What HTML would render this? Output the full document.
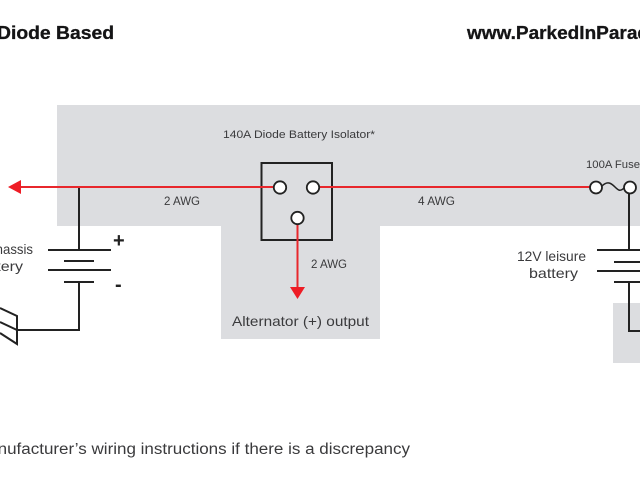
<!DOCTYPE html>
<html>
<head>
<meta charset="utf-8">
<style>
html,body{margin:0;padding:0;background:#fff;width:640px;height:480px;overflow:hidden}
svg{display:block}
text{font-family:"Liberation Sans",sans-serif;fill:#3a3a3c}
.b{font-weight:bold;fill:#151516;stroke:#151516;stroke-width:.3}
</style>
</head>
<body>
<svg width="640" height="480" viewBox="0 0 640 480" xmlns="http://www.w3.org/2000/svg">
<rect width="640" height="480" fill="#fff"/>
<path d="M57 105H640V226H380V339H221V226H57Z" fill="#dcdde0"/>
<rect x="613" y="303" width="27" height="60" fill="#dcdde0"/>

<text class="b" x="-3" y="39" font-size="18" textLength="117" lengthAdjust="spacingAndGlyphs">Diode Based</text>
<text class="b" x="467" y="39" font-size="18" textLength="182" lengthAdjust="spacingAndGlyphs">www.ParkedInParad</text>

<text x="223" y="138" font-size="11" textLength="152" lengthAdjust="spacingAndGlyphs">140A Diode Battery Isolator*</text>
<text x="164" y="205" font-size="11.500" textLength="36" lengthAdjust="spacingAndGlyphs">2 AWG</text>
<text x="418" y="205" font-size="11.500" textLength="37" lengthAdjust="spacingAndGlyphs">4 AWG</text>
<text x="311" y="268" font-size="11.500" textLength="36" lengthAdjust="spacingAndGlyphs">2 AWG</text>
<text x="232" y="326" font-size="14" textLength="137" lengthAdjust="spacingAndGlyphs">Alternator (+) output</text>
<text x="586" y="168" font-size="11" textLength="54" lengthAdjust="spacingAndGlyphs">100A Fuse</text>
<text x="517" y="261" font-size="14" textLength="69" lengthAdjust="spacingAndGlyphs">12V leisure</text>
<text x="529" y="278" font-size="14" textLength="49" lengthAdjust="spacingAndGlyphs">battery</text>
<text x="-38" y="254" font-size="14" textLength="71" lengthAdjust="spacingAndGlyphs">12V chassis</text>
<text x="-26" y="271" font-size="14" textLength="49" lengthAdjust="spacingAndGlyphs">battery</text>
<text x="113" y="247" font-size="20" font-weight="bold" style="fill:#222">+</text>
<text x="115" y="291" font-size="20" font-weight="bold" style="fill:#222">-</text>
<text x="-26" y="454" font-size="15.500" textLength="436" lengthAdjust="spacingAndGlyphs">manufacturer’s wiring instructions if there is a discrepancy</text>

<g stroke="#222" stroke-width="2" fill="none">
<path d="M79 187V250M48 250H111M64 261H94M48 270H111M64 282H94M79 282V330H17"/>
<path d="M0 308L17 316V344L0 333M0 322L17 330"/>
<rect x="261.500" y="163" width="70.500" height="77"/>
<path d="M629 194V250M597 250H640M614 262H640M597 271H640M614 282H640M629 282V331H640"/>
<path d="M602 186C608 180 612 184 615 187S620 192 624 188" stroke-width="1.500"/>
</g>

<g stroke="#e8272c" stroke-width="2" fill="none">
<path d="M20 187H274M320 187H590M297.500 224V288"/>
</g>
<path d="M8 187L21 180V194Z" fill="#ee1c25"/>
<path d="M290 287H305L297.500 299Z" fill="#ee1c25"/>

<g fill="#fff" stroke="#222" stroke-width="1.800">
<circle cx="280" cy="187.500" r="6.200"/>
<circle cx="313" cy="187.500" r="6.200"/>
<circle cx="297.500" cy="218" r="6.200"/>
<circle cx="596" cy="187.500" r="6"/>
<circle cx="630" cy="187.500" r="6"/>
</g>
</svg>
</body>
</html>
